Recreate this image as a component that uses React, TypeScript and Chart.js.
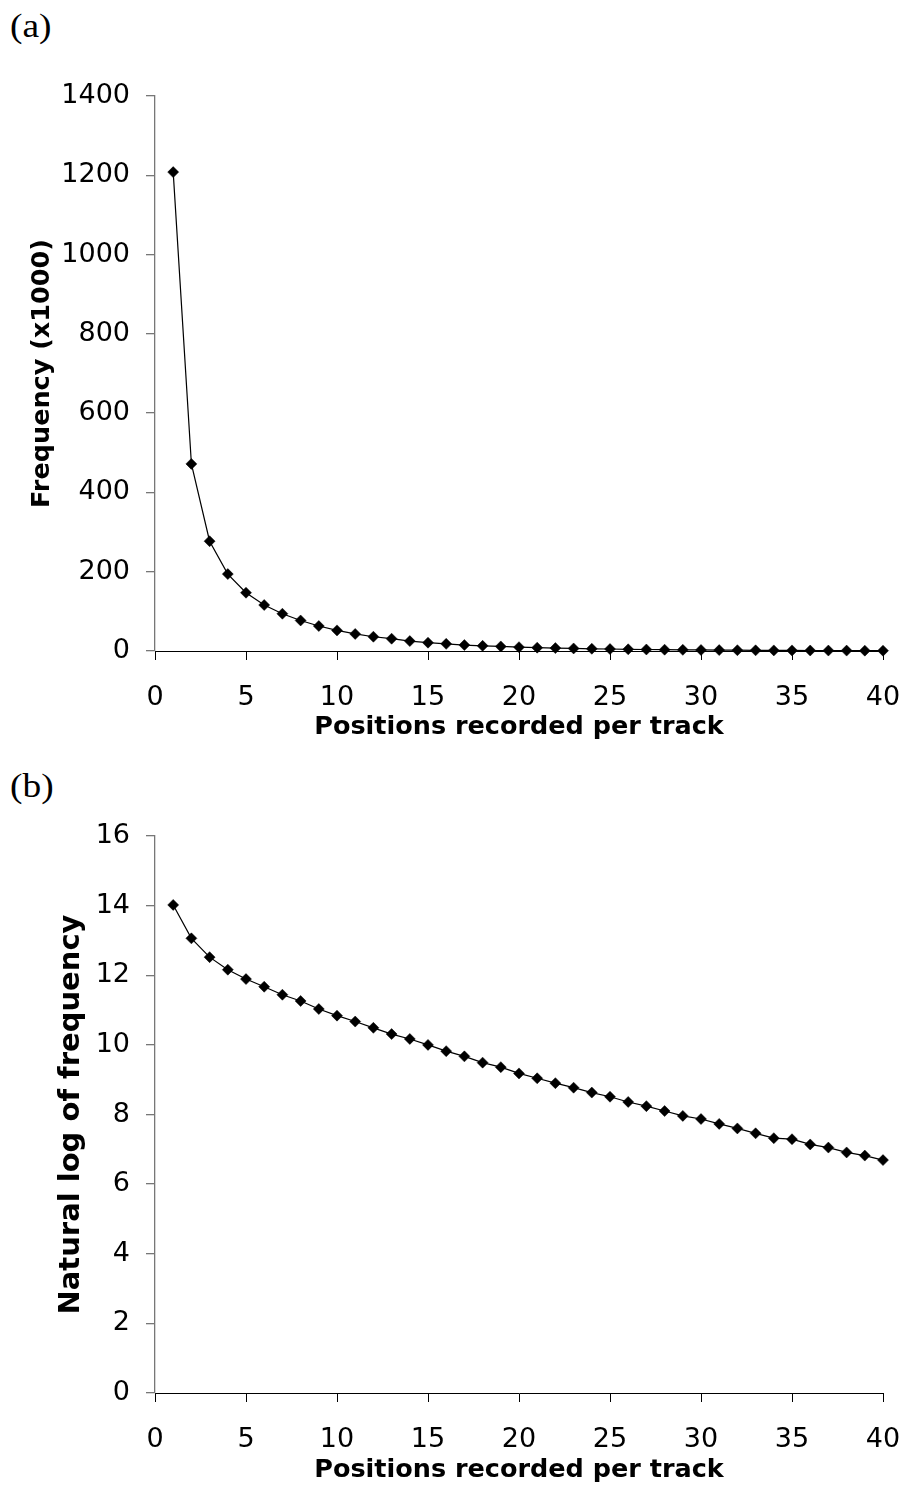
import React, { useEffect, useRef } from "react";
import { Chart, registerables } from "chart.js";

Chart.register(...registerables);

// ---- data ----
const positions = [
  1, 2, 3, 4, 5, 6, 7, 8, 9, 10, 11, 12, 13, 14, 15, 16, 17, 18, 19, 20,
  21, 22, 23, 24, 25, 26, 27, 28, 29, 30, 31, 32, 33, 34, 35, 36, 37, 38, 39, 40,
];

const freqThousands = [
  1208, 472, 277, 194, 147, 116, 94, 77, 63, 52, 43, 36, 31, 25, 21, 18, 15, 13,
  11.5, 9.7, 8.4, 7.3, 6.4, 5.6, 5.0, 4.3, 3.8, 3.3, 2.9, 2.6, 2.3, 2.0, 1.7,
  1.5, 1.5, 1.3, 1.15, 1.0, 0.9, 0.8,
];

const lnFreq = [
  14.02, 13.06, 12.52, 12.16, 11.89, 11.67, 11.44, 11.26, 11.03, 10.84, 10.67,
  10.49, 10.31, 10.17, 10.0, 9.82, 9.67, 9.49, 9.36, 9.18, 9.04, 8.9, 8.77,
  8.63, 8.51, 8.36, 8.24, 8.1, 7.96, 7.87, 7.73, 7.6, 7.46, 7.32, 7.29, 7.14,
  7.05, 6.91, 6.82, 6.69,
];

const xTicks = [0, 5, 10, 15, 20, 25, 30, 35, 40];
const yTicksA = [0, 200, 400, 600, 800, 1000, 1200, 1400];
const yTicksB = [0, 2, 4, 6, 8, 10, 12, 14, 16];

const xTitle = "Positions recorded per track";
const yTitleA = "Frequency (x1000)";
const yTitleB = "Natural log of frequency";

type Geom = {
  width: number;
  height: number;
  padTop: number;
  padRight: number;
  yScaleWidth: number;
  xScaleHeight: number;
  xTitlePadBottom: number;
  yTitlePadTop: number;
  yTitleSize: number;
};

const tickFont = { family: "'DejaVu Sans', sans-serif", size: 27 };
const titleFont = { family: "'DejaVu Sans', sans-serif", size: 25.5, weight: "bold" as const };

function ChartPanel(props: {
  values: number[];
  yTicks: number[];
  yTitle: string;
  geom: Geom;
  top: number;
}) {
  const ref = useRef<HTMLCanvasElement | null>(null);
  const { values, yTicks, yTitle, geom, top } = props;

  useEffect(() => {
    if (!ref.current) return;
    const data = positions.map((p, i) => ({ x: p, y: values[i] }));
    const chart = new Chart(ref.current, {
      type: "scatter",
      data: {
        datasets: [
          {
            data,
            showLine: true,
            borderColor: "#000",
            borderWidth: 1.2,
            tension: 0,
            pointStyle: "rectRot",
            pointRadius: 5.5,
            pointBackgroundColor: "#000",
            pointBorderColor: "#000",
            pointBorderWidth: 0.5,
            clip: false,
          },
        ],
      },
      options: {
        animation: false,
        responsive: false,
        devicePixelRatio: 1,
        events: [],
        layout: {
          padding: { top: geom.padTop, right: geom.padRight, left: 0, bottom: 0 },
        },
        plugins: {
          legend: { display: false },
          tooltip: { enabled: false },
        },
        scales: {
          x: {
            type: "linear",
            position: "bottom",
            min: xTicks[0],
            max: xTicks[xTicks.length - 1],
            afterBuildTicks: (s: any) => {
              s.ticks = xTicks.map((v) => ({ value: v }));
            },
            afterFit: (s: any) => {
              s.height = geom.xScaleHeight;
              s.paddingLeft = 0;
              s.paddingRight = 0;
              s.paddingTop = 0;
              s.paddingBottom = 0;
            },
            border: { display: true, color: "#000", width: 1 },
            grid: {
              drawOnChartArea: false,
              drawTicks: true,
              tickLength: 9,
              color: "#000",
              lineWidth: 1,
            },
            ticks: {
              autoSkip: false,
              maxRotation: 0,
              padding: 22,
              color: "#000",
              font: tickFont,
              callback: (v: any) => String(v),
            },
            title: {
              display: true,
              text: xTitle,
              color: "#000",
              font: titleFont,
              padding: { top: 0, bottom: geom.xTitlePadBottom },
            },
          },
          y: {
            type: "linear",
            position: "left",
            min: yTicks[0],
            max: yTicks[yTicks.length - 1],
            afterBuildTicks: (s: any) => {
              s.ticks = yTicks.map((v) => ({ value: v }));
            },
            afterFit: (s: any) => {
              s.width = geom.yScaleWidth;
              s.paddingLeft = 0;
              s.paddingRight = 0;
              s.paddingTop = 0;
              s.paddingBottom = 0;
            },
            border: { display: true, color: "#777", width: 1.3 },
            grid: {
              drawOnChartArea: false,
              drawTicks: true,
              tickLength: 9,
              color: "#777",
              lineWidth: 1.3,
            },
            ticks: {
              autoSkip: false,
              padding: 16,
              color: "#000",
              font: tickFont,
              callback: (v: any) => String(v),
            },
            title: {
              display: true,
              text: yTitle,
              color: "#000",
              font: { ...titleFont, size: geom.yTitleSize },
              padding: { top: geom.yTitlePadTop, bottom: 0 },
            },
          },
        },
      },
    } as any);
    return () => chart.destroy();
  }, [values, yTicks, yTitle, geom]);

  return (
    <canvas
      ref={ref}
      width={geom.width}
      height={geom.height}
      style={{
        position: "absolute",
        left: 0,
        top,
        width: geom.width,
        height: geom.height,
        display: "block",
      }}
    />
  );
}

const geomA: Geom = {
  width: 901,
  height: 760,
  padTop: 96,
  padRight: 18,
  yScaleWidth: 155,
  xScaleHeight: 109,
  xTitlePadBottom: 17,
  yTitlePadTop: 27.4,
  yTitleSize: 25.5,
};

const geomB: Geom = {
  width: 901,
  height: 726,
  padTop: 76,
  padRight: 18,
  yScaleWidth: 155,
  xScaleHeight: 93,
  xTitlePadBottom: 0,
  yTitlePadTop: 54,
  yTitleSize: 29,
};

const panelLabel: React.CSSProperties = {
  position: "absolute",
  left: 10,
  fontFamily: "'Liberation Serif', 'Times New Roman', serif",
  fontSize: 34,
  lineHeight: "34px",
  color: "#000",
  transform: "scaleX(1.1)",
  transformOrigin: "left top",
  whiteSpace: "nowrap",
};

export default function App() {
  return (
    <div
      style={{
        position: "absolute",
        left: 0,
        top: 0,
        width: 901,
        height: 1486,
        background: "#fff",
        overflow: "hidden",
      }}
    >
      <div style={{ ...panelLabel, top: 9 }}>(a)</div>
      <div style={{ ...panelLabel, top: 769 }}>(b)</div>
      <ChartPanel values={freqThousands} yTicks={yTicksA} yTitle={yTitleA} geom={geomA} top={0} />
      <ChartPanel values={lnFreq} yTicks={yTicksB} yTitle={yTitleB} geom={geomB} top={760} />
    </div>
  );
}
